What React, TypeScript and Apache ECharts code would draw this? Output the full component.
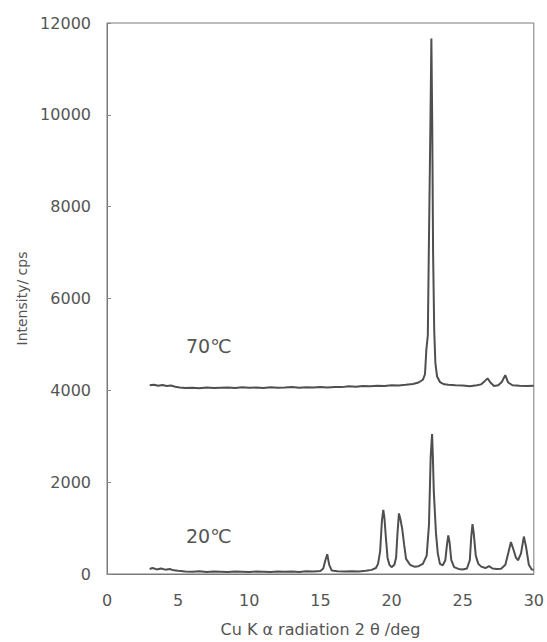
import React, { useEffect, useRef } from "react";
import * as echarts from "echarts";

// X-ray diffraction patterns: [2θ (deg), intensity (cps)]
const pattern70C: [number, number][] = [
  [3.0, 4110], [3.3, 4120], [3.6, 4100], [3.9, 4115], [4.2, 4095], [4.5, 4105], [4.8, 4080], [5.1, 4060], [5.5, 4050],
  [6.0, 4055], [6.5, 4045], [7.0, 4060], [7.5, 4050], [8.0, 4055], [8.5, 4060], [9.0, 4050], [9.5, 4065],
  [10.0, 4055], [10.5, 4060], [11.0, 4050], [11.5, 4065], [12.0, 4055], [12.5, 4060], [13.0, 4070], [13.5, 4055],
  [14.0, 4065], [14.5, 4060], [15.0, 4070], [15.5, 4060], [16.0, 4075], [16.5, 4070], [17.0, 4090], [17.5, 4080],
  [18.0, 4095], [18.5, 4090], [19.0, 4100], [19.5, 4095], [20.0, 4110], [20.5, 4105], [21.0, 4120], [21.5, 4140],
  [21.9, 4170], [22.2, 4230], [22.35, 4350], [22.45, 4900], [22.55, 5200], [22.63, 7300], [22.72, 9500],
  [22.8, 11660], [22.86, 9800], [22.92, 7000], [23.0, 5300], [23.08, 4600], [23.2, 4300], [23.4, 4180],
  [23.7, 4130], [24.0, 4120], [24.5, 4110], [25.0, 4105], [25.5, 4090], [26.0, 4110], [26.3, 4130],
  [26.55, 4200], [26.75, 4260], [26.95, 4170], [27.2, 4095], [27.5, 4110], [27.75, 4180], [27.99, 4330],
  [28.2, 4170], [28.5, 4110], [29.0, 4100], [29.5, 4095], [30.0, 4100],
];

const pattern20C: [number, number][] = [
  [3.0, 110], [3.2, 130], [3.5, 100], [3.8, 120], [4.1, 95], [4.4, 110], [4.7, 80], [5.0, 70],
  [5.5, 55], [6.0, 50], [6.5, 60], [7.0, 45], [7.5, 55], [8.0, 50], [8.5, 45], [9.0, 55], [9.5, 50],
  [10.0, 45], [10.5, 55], [11.0, 50], [11.5, 45], [12.0, 55], [12.5, 50], [13.0, 55], [13.5, 45],
  [14.0, 60], [14.5, 55], [15.0, 65], [15.2, 120], [15.35, 300], [15.48, 430], [15.62, 200], [15.8, 75],
  [16.2, 60], [16.7, 55], [17.2, 60], [17.7, 55], [18.2, 70], [18.6, 90], [18.9, 130],
  [19.05, 220], [19.2, 500], [19.32, 1150], [19.42, 1395], [19.5, 1220], [19.6, 800], [19.72, 350], [19.85, 200],
  [20.0, 150], [20.2, 200], [20.32, 360], [20.42, 900], [20.52, 1320], [20.62, 1200], [20.75, 980],
  [20.88, 650], [21.02, 330], [21.3, 200], [21.6, 160], [21.9, 170], [22.2, 220],
  [22.47, 400], [22.63, 1070], [22.75, 2550], [22.85, 3050], [22.9, 2600], [22.97, 1800], [23.12, 900],
  [23.25, 450], [23.4, 220], [23.6, 190], [23.78, 300], [23.9, 650], [23.99, 840], [24.08, 680],
  [24.2, 300], [24.4, 150], [24.7, 110], [25.0, 100], [25.3, 120], [25.5, 300], [25.6, 800],
  [25.69, 1085], [25.78, 880], [25.92, 400], [26.1, 220], [26.3, 160], [26.6, 130], [26.85, 170], [27.1, 120],
  [27.4, 110], [27.7, 115], [28.0, 200], [28.2, 450], [28.39, 695], [28.55, 550], [28.75, 350],
  [28.9, 300], [29.1, 450], [29.3, 815], [29.45, 600], [29.65, 200], [29.85, 100], [30.0, 95],
];

const curveLabels = ["70℃", "20℃"];
const xTicks = [0, 5, 10, 15, 20, 25, 30];
const yTicks = [0, 2000, 4000, 6000, 8000, 10000, 12000];

export default function App() {
  const ref = useRef<HTMLDivElement>(null);
  useEffect(() => {
    if (!ref.current) return;
    const chart = echarts.init(ref.current, undefined, { renderer: "svg" });
    const font = "DejaVu Sans, sans-serif";
    const lineColor = "#4f4f4f";
    chart.setOption({
      animation: false,
      backgroundColor: "#ffffff",
      grid: {
        left: 107,
        right: 13,
        top: 23,
        bottom: 66,
        show: true,
        borderColor: "#7a7a7a",
        borderWidth: 1,
      },
      xAxis: {
        type: "value",
        min: xTicks[0],
        max: xTicks[xTicks.length - 1],
        interval: 5,
        name: "Cu K α radiation 2 θ /deg",
        nameLocation: "middle",
        nameGap: 47,
        nameTextStyle: { fontFamily: font, fontSize: 16, color: "#555" },
        axisLine: { show: true, lineStyle: { color: "#7a7a7a", width: 1 } },
        axisTick: { show: false },
        axisLabel: { fontFamily: font, fontSize: 16, color: "#555", margin: 18, formatter: (v: number) => String(v) },
        splitLine: { show: false },
      },
      yAxis: {
        type: "value",
        min: yTicks[0],
        max: yTicks[yTicks.length - 1],
        interval: 2000,
        name: "Intensity/ cps",
        nameLocation: "middle",
        nameGap: 78,
        nameTextStyle: { fontFamily: font, fontSize: 14, color: "#555" },
        axisLine: { show: true, lineStyle: { color: "#7a7a7a", width: 1 } },
        axisTick: { show: true, inside: true, length: 4, lineStyle: { color: "#888" } },
        axisLabel: { fontFamily: font, fontSize: 16, color: "#555", margin: 16, formatter: (v: number) => String(v) },
        splitLine: { show: false },
      },
      series: [
        {
          name: curveLabels[0],
          type: "line",
          data: pattern70C,
          showSymbol: false,
          lineStyle: { color: lineColor, width: 2 },
        },
        {
          name: curveLabels[1],
          type: "line",
          data: pattern20C,
          showSymbol: false,
          lineStyle: { color: lineColor, width: 2 },
        },
      ],
      graphic: [
        {
          type: "text",
          left: 186,
          top: 336,
          style: { text: curveLabels[0], fontFamily: font, fontSize: 19, fill: "#555" },
        },
        {
          type: "text",
          left: 186,
          top: 526,
          style: { text: curveLabels[1], fontFamily: font, fontSize: 19, fill: "#555" },
        },
      ],
    });
    return () => chart.dispose();
  }, []);
  return (
    <div
      ref={ref}
      style={{ position: "absolute", left: 0, top: 0, width: 547, height: 642 }}
    />
  );
}
